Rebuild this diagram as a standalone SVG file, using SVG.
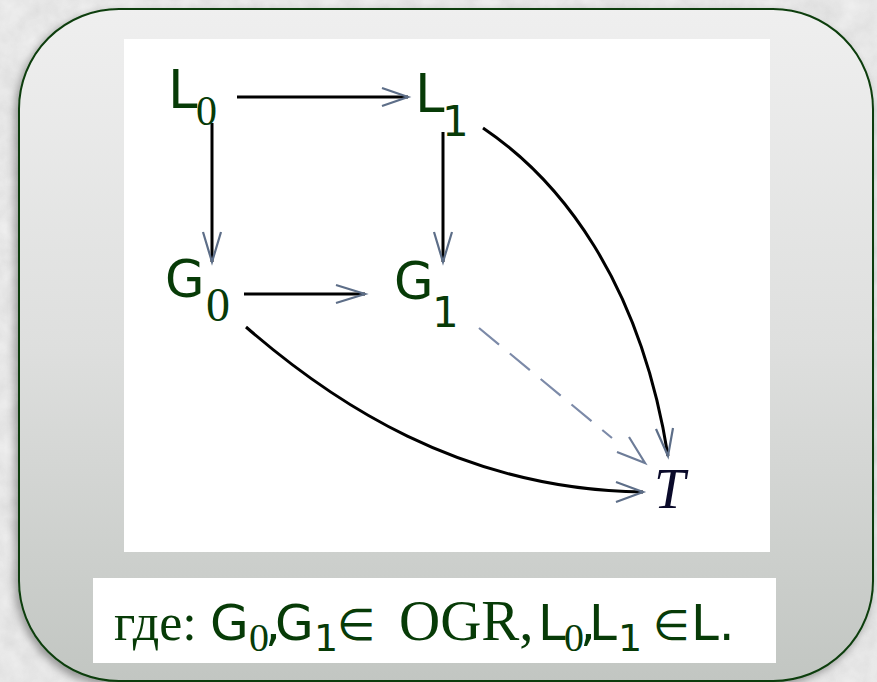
<svg xmlns="http://www.w3.org/2000/svg" width="877" height="682" viewBox="0 0 877 682">
  <defs>
    <filter id="marble" x="0" y="0" width="100%" height="100%">
      <feTurbulence type="fractalNoise" baseFrequency="0.05" numOctaves="3" seed="4"/>
      <feColorMatrix type="matrix" values="0 0 0 0 0.88  0 0 0 0 0.88  0 0 0 0 0.88  0 0 0 -1.2 1.1"/>
    </filter>
    <linearGradient id="panel" x1="0" y1="0" x2="0" y2="1">
      <stop offset="0" stop-color="#efefef"/>
      <stop offset="0.5" stop-color="#dedfde"/>
      <stop offset="1" stop-color="#c2c6c2"/>
    </linearGradient>
    <filter id="shadow" x="-5%" y="-5%" width="110%" height="110%">
      <feGaussianBlur in="SourceAlpha" stdDeviation="4"/>
      <feOffset dx="-3" dy="4"/>
      <feComponentTransfer><feFuncA type="linear" slope="0.35"/></feComponentTransfer>
      <feMerge><feMergeNode/><feMergeNode in="SourceGraphic"/></feMerge>
    </filter>
  </defs>
  <style>
    .edge { fill: none; stroke: #000; stroke-width: 3; }
    .head { fill: none; stroke: #5d6e88; stroke-width: 2.2; stroke-linejoin: miter; }
    .dash { fill: none; stroke: #7c8aa8; stroke-width: 2.2; stroke-dasharray: 26 14; }
    .sans { font-family: "DejaVu Sans", Verdana, sans-serif; fill: #073b07; }
    .serif { font-family: "Liberation Serif", "Times New Roman", serif; fill: #073b07; }
  </style>

  <rect x="0" y="0" width="877" height="682" fill="#dedede"/>
  <rect x="0" y="0" width="877" height="682" filter="url(#marble)" opacity="0.9"/>

  <g id="panel-frame">
    <rect x="19" y="9" width="854" height="672" rx="100" ry="100" fill="url(#panel)" stroke="#0b3d0b" stroke-width="2" filter="url(#shadow)"/>
    <rect x="124" y="39" width="646" height="513" fill="#ffffff"/>
    <rect x="93" y="578" width="683" height="85" fill="#ffffff"/>
  </g>

  <g id="connectors">
    <line class="edge" x1="237" y1="97" x2="408" y2="97"/>
    <polyline class="head" points="382,88 408,97 382,106"/>

    <line class="edge" x1="212" y1="123" x2="212" y2="262"/>
    <polyline class="head" points="203,232 212,262 221,232"/>

    <line class="edge" x1="443" y1="132" x2="443" y2="262"/>
    <polyline class="head" points="434,232 443,262 452,232"/>

    <line class="edge" x1="244" y1="294" x2="365" y2="294"/>
    <polyline class="head" points="336,285 365,294 336,303"/>

    <path class="edge" d="M483,128 C560,180 640,280 668,456"/>
    <polyline class="head" points="656,429 668,456 673,428"/>

    <path class="edge" d="M246,327 C330,400 460,490 643,492"/>
    <polyline class="head" points="616,482 643,492 616,502"/>

    <line class="dash" x1="479" y1="328" x2="612" y2="438"/>
    <polyline class="head" style="stroke:#6d7c98" points="617,452 645,463 629,437"/>
  </g>

  <g id="node-L0">
    <text class="sans" x="168" y="108" font-size="53">L<tspan class="serif" x="196" y="125" font-size="42">0</tspan></text>
  </g>
  <g id="node-L1">
    <text class="sans" x="415" y="112" font-size="53">L<tspan x="442" y="136" font-size="42">1</tspan></text>
  </g>
  <g id="node-G0">
    <text class="sans" x="165" y="297" font-size="51">G<tspan class="serif" x="206" y="321" font-size="48">0</tspan></text>
  </g>
  <g id="node-G1">
    <text class="sans" x="394" y="299" font-size="51">G<tspan x="432" y="327" font-size="42">1</tspan></text>
  </g>
  <g id="node-T">
    <text x="654" y="508" font-family="Liberation Serif, 'Times New Roman', serif" font-style="italic" font-size="56" fill="#0a0a2a">T</text>
  </g>

  <g id="caption">
    <text class="serif" x="114" y="640" font-size="52">где:<tspan class="sans" x="210" y="640" font-size="50">G</tspan><tspan class="serif" x="249" y="651" font-size="40">0</tspan><tspan class="sans" x="265" y="640" font-size="50">,</tspan><tspan class="sans" x="275" y="640" font-size="50">G</tspan><tspan class="sans" x="314" y="651" font-size="38">1</tspan><tspan class="serif" x="337" y="640" font-size="44">∈</tspan><tspan class="serif" x="399" y="640" font-size="57">OGR,</tspan><tspan class="sans" x="538" y="640" font-size="50">L</tspan><tspan class="serif" x="564" y="651" font-size="40">0</tspan><tspan class="sans" x="580" y="640" font-size="50">,</tspan><tspan class="sans" x="589" y="640" font-size="50">L</tspan><tspan class="sans" x="618" y="651" font-size="38">1</tspan><tspan class="sans" x="653" y="640" font-size="42">∈</tspan><tspan class="sans" x="691" y="640" font-size="50">L.</tspan></text>
  </g>
</svg>
